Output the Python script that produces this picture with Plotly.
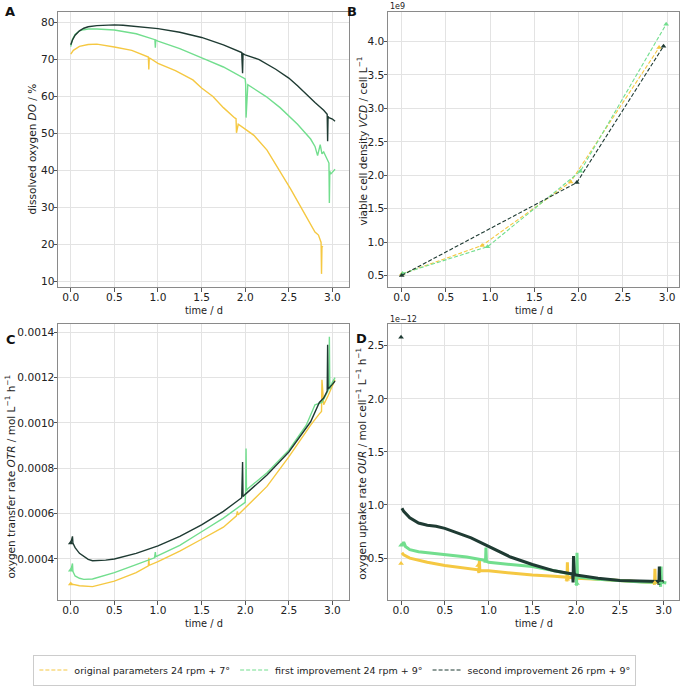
import plotly.graph_objects as go

W, H = 682, 686

YEL = "#f5c842"
GRN = "#72de8e"
DRK = "#1f3b33"

names = ["original parameters 24 rpm + 7°", "first improvement 24 rpm + 9°", "second improvement 26 rpm + 9°"]

# ---------- Panel A: dissolved oxygen (%) ----------
a_yel_t = [0.0, 0.03, 0.1, 0.2, 0.3, 0.4, 0.5, 0.7, 0.88, 0.89, 0.895, 0.9, 1.0, 1.2, 1.4, 1.5, 1.63, 1.75, 1.88, 1.895, 1.9, 1.92, 2.0, 2.1, 2.25, 2.4, 2.52, 2.64, 2.72, 2.8, 2.84, 2.87, 2.875, 2.88, 2.89]
a_yel = [71.5, 72.5, 73.6, 74.1, 74.2, 73.9, 73.4, 72.5, 70.9, 70.7, 67.3, 70.5, 69.0, 67.0, 64.5, 62.3, 60.0, 57.0, 54.2, 54.0, 50.2, 52.5, 51.2, 49.5, 45.5, 39.7, 35.0, 30.0, 26.5, 23.3, 22.5, 20.5, 12.0, 19.5, 19.2]

a_grn_t = [0.0, 0.02, 0.05, 0.1, 0.15, 0.2, 0.3, 0.5, 0.75, 0.95, 0.965, 0.97, 0.975, 1.0, 1.25, 1.55, 1.75, 2.0, 2.005, 2.01, 2.02, 2.03, 2.24, 2.4, 2.6, 2.7, 2.75, 2.8, 2.83, 2.86, 2.88, 2.9, 2.94, 2.96, 2.965, 2.97, 2.98, 3.0, 3.03]
a_grn = [73.5, 75.5, 76.8, 77.8, 78.1, 78.3, 78.3, 78.0, 77.0, 75.6, 75.4, 73.2, 75.3, 75.0, 73.0, 70.0, 68.0, 64.8, 63.5, 54.3, 62.0, 63.2, 60.0, 57.0, 52.5, 50.0, 48.5, 46.5, 44.0, 47.0, 44.5, 45.0, 43.0, 42.0, 31.2, 39.8, 39.0, 39.5, 40.3]

a_drk_t = [0.0, 0.02, 0.05, 0.1, 0.15, 0.2, 0.3, 0.4, 0.5, 0.6, 0.7, 0.85, 1.0, 1.25, 1.5, 1.75, 1.96, 1.97, 1.975, 2.0, 2.16, 2.35, 2.5, 2.6, 2.7, 2.8, 2.9, 2.94, 2.945, 2.95, 2.96, 3.0, 3.03]
a_drk = [74.0, 75.3, 76.6, 77.8, 78.5, 78.9, 79.2, 79.4, 79.4, 79.3, 79.1, 78.8, 78.4, 77.4, 76.0, 74.0, 71.9, 66.3, 71.6, 71.3, 70.0, 67.4, 65.0, 62.9, 60.6, 58.4, 56.3, 55.2, 47.9, 54.6, 54.3, 53.9, 53.3]

# ---------- Panel B: viable cell density (1e9 cell/L) ----------
b_yel_t = [0.0, 0.91, 1.91, 2.91]
b_yel = [0.52, 0.95, 1.90, 3.91]
b_grn_t = [0.01, 0.97, 2.02, 2.99]
b_grn = [0.53, 0.93, 2.06, 4.26]
b_drk_t = [0.0, 1.98, 2.96]
b_drk = [0.50, 1.89, 3.93]

# ---------- Panel C: OTR (mol/L/h) ----------
c_yel_t = [0.0, 0.02, 0.1, 0.25, 0.5, 0.75, 0.89, 0.895, 0.9, 1.0, 1.25, 1.5, 1.75, 1.9, 1.91, 1.92, 2.0, 2.25, 2.5, 2.75, 2.85, 2.875, 2.88, 2.9, 2.95, 3.0, 3.03]
c_yel = [0.000290, 0.000288, 0.000282, 0.000278, 0.000302, 0.000340, 0.000370, 0.000405, 0.000372, 0.000388, 0.000435, 0.000487, 0.000540, 0.000590, 0.000610, 0.000595, 0.000625, 0.000720, 0.000850, 0.000990, 0.001040, 0.001050, 0.001190, 0.001080, 0.001120, 0.001160, 0.001190]

c_grn_t = [0.0, 0.02, 0.025, 0.05, 0.1, 0.15, 0.25, 0.5, 0.75, 0.96, 0.97, 0.975, 1.0, 1.25, 1.5, 1.75, 2.0, 2.005, 2.01, 2.015, 2.03, 2.25, 2.5, 2.7, 2.8, 2.88, 2.92, 2.96, 2.965, 2.97, 3.0, 3.03]
c_grn = [0.000350, 0.000380, 0.000345, 0.000325, 0.000315, 0.000310, 0.000312, 0.000340, 0.000375, 0.000405, 0.000430, 0.000410, 0.000415, 0.000460, 0.000520, 0.000580, 0.000650, 0.000700, 0.000887, 0.000700, 0.000710, 0.000780, 0.000880, 0.000990, 0.001080, 0.001090, 0.001120, 0.001150, 0.001380, 0.001150, 0.001180, 0.001200]

c_drk_t = [0.0, 0.02, 0.025, 0.05, 0.1, 0.15, 0.2, 0.25, 0.3, 0.4, 0.5, 0.75, 1.0, 1.25, 1.5, 1.75, 1.96, 1.97, 1.975, 2.0, 2.25, 2.5, 2.75, 2.85, 2.9, 2.94, 2.945, 2.95, 3.0, 3.03]
c_drk = [0.000470, 0.000500, 0.000470, 0.000450, 0.000425, 0.000410, 0.000398, 0.000392, 0.000392, 0.000395, 0.000400, 0.000425, 0.000458, 0.000500, 0.000550, 0.000610, 0.000670, 0.000828, 0.000675, 0.000685, 0.000770, 0.000872, 0.001005, 0.001090, 0.001110, 0.001140, 0.001345, 0.001150, 0.001170, 0.001185]

# ---------- Panel D: OUR (1e-12 mol/cell/L/h) ----------
d_yel_t = [0.01, 0.03, 0.1, 0.2, 0.3, 0.5, 0.75, 0.88, 0.89, 0.895, 0.9, 1.0, 1.25, 1.5, 1.75, 1.89, 1.895, 1.9, 1.905, 2.0, 2.25, 2.5, 2.75, 2.89, 2.895, 2.9, 2.905, 3.0]
d_yel = [0.55, 0.53, 0.50, 0.48, 0.46, 0.43, 0.40, 0.39, 0.36, 0.48, 0.38, 0.38, 0.36, 0.34, 0.33, 0.32, 0.28, 0.46, 0.32, 0.31, 0.30, 0.29, 0.28, 0.27, 0.25, 0.40, 0.27, 0.27]

d_grn_t = [0.01, 0.03, 0.05, 0.1, 0.2, 0.3, 0.5, 0.75, 0.95, 0.965, 0.97, 0.975, 1.0, 1.25, 1.5, 1.75, 2.0, 2.005, 2.01, 2.015, 2.02, 2.25, 2.5, 2.75, 2.96, 2.965, 2.97, 2.975, 3.0, 3.03]
d_grn = [0.62, 0.65, 0.61, 0.58, 0.56, 0.55, 0.53, 0.51, 0.48, 0.47, 0.60, 0.47, 0.46, 0.44, 0.42, 0.38, 0.34, 0.24, 0.55, 0.33, 0.32, 0.30, 0.285, 0.275, 0.27, 0.23, 0.42, 0.27, 0.27, 0.265]

d_drk_t = [0.01, 0.03, 0.1, 0.2, 0.3, 0.4, 0.5, 0.6, 0.7, 0.8, 0.9, 1.0, 1.1, 1.25, 1.5, 1.75, 1.96, 1.965, 1.97, 1.975, 1.98, 2.0, 2.25, 2.5, 2.75, 2.94, 2.945, 2.95, 2.955, 2.96, 3.0]
d_drk = [0.97, 0.94, 0.88, 0.83, 0.81, 0.80, 0.78, 0.75, 0.72, 0.69, 0.65, 0.61, 0.57, 0.51, 0.44, 0.38, 0.35, 0.27, 0.52, 0.35, 0.34, 0.34, 0.31, 0.29, 0.285, 0.28, 0.25, 0.42, 0.28, 0.28, 0.28]

# sample-point markers (triangles)
c_m_t = [0.0, 0.0, 0.0]
c_m = [0.00029, 0.00035, 0.00047]
d_m_yel_t = [0.0, 0.88, 1.9, 2.9]
d_m_yel = [0.45, 0.43, 0.30, 0.27]
d_m_grn_t = [0.0, 0.97, 2.01, 2.97]
d_m_grn = [0.62, 0.47, 0.26, 0.27]
d_m_drk_t = [0.0, 1.97, 2.95]
d_m_drk = [2.58, 0.36, 0.29]


def px_x(p):
    return p / W


def px_y(p):
    return 1 - p / H


DASH = "4px,2px"
fig = go.Figure()
cols = [YEL, GRN, DRK]

# Panel A
for t, v, c in zip([a_yel_t, a_grn_t, a_drk_t], [a_yel, a_grn, a_drk], cols):
    fig.add_trace(go.Scatter(x=t, y=v, mode="lines", line=dict(color=c, width=1.4),
                             xaxis="x", yaxis="y", showlegend=False))
# Panel B
for t, v, c in zip([b_yel_t, b_grn_t, b_drk_t], [b_yel, b_grn, b_drk], cols):
    fig.add_trace(go.Scatter(x=t, y=v, mode="lines+markers",
                             line=dict(color=c, width=1.1, dash=DASH),
                             marker=dict(symbol="triangle-up", size=5, color=c),
                             xaxis="x2", yaxis="y2", showlegend=False))
# Panel C
for t, v, c in zip([c_yel_t, c_grn_t, c_drk_t], [c_yel, c_grn, c_drk], cols):
    fig.add_trace(go.Scatter(x=t, y=v, mode="lines", line=dict(color=c, width=1.4),
                             xaxis="x3", yaxis="y3", showlegend=False))
for i, c in enumerate(cols):
    fig.add_trace(go.Scatter(x=[c_m_t[i]], y=[c_m[i]], mode="markers",
                             marker=dict(symbol="triangle-up", size=5, color=c),
                             xaxis="x3", yaxis="y3", showlegend=False))
# Panel D
for t, v, c in zip([d_yel_t, d_grn_t, d_drk_t], [d_yel, d_grn, d_drk], cols):
    fig.add_trace(go.Scatter(x=t, y=v, mode="lines", line=dict(color=c, width=3),
                             xaxis="x4", yaxis="y4", showlegend=False))
for t, v, c in zip([d_m_yel_t, d_m_grn_t, d_m_drk_t], [d_m_yel, d_m_grn, d_m_drk], cols):
    fig.add_trace(go.Scatter(x=t, y=v, mode="markers",
                             marker=dict(symbol="triangle-up", size=5, color=c),
                             xaxis="x4", yaxis="y4", showlegend=False))

# Legend-only entries
for n, c in zip(names, cols):
    fig.add_trace(go.Scatter(x=[None], y=[None], mode="lines", name=n,
                             line=dict(color=c, width=1.1, dash=DASH),
                             xaxis="x", yaxis="y", showlegend=True))

FONT = "DejaVu Sans"
axcommon = dict(showgrid=True, gridcolor="#e3e3e3", gridwidth=1, zeroline=False,
                showline=True, linecolor="#8a8a8a", linewidth=1, mirror=True,
                ticks="outside", ticklen=3.5, tickcolor="#555", tickwidth=1,
                ticklabelstandoff=-3,
                tickfont=dict(family=FONT, size=10.6, color="#222"), automargin=False)

dom_left = [px_x(58), px_x(349)]
dom_right = [px_x(388), px_x(679)]
dom_top = [px_y(288), px_y(12)]
dom_bot = [px_y(602), px_y(325)]

tv = [0, 0.5, 1, 1.5, 2, 2.5, 3]
tl = ["0.0", "0.5", "1.0", "1.5", "2.0", "2.5", "3.0"]

fig.update_layout(
    width=W, height=H, margin=dict(l=0, r=0, t=0, b=0),
    paper_bgcolor="white", plot_bgcolor="white",
    font=dict(family=FONT, color="#222"),
    xaxis=dict(axcommon, domain=dom_left, anchor="y", range=[-0.146, 3.19], tickvals=tv, ticktext=tl),
    yaxis=dict(axcommon, domain=dom_top, anchor="x", range=[8.4, 82.9], tickvals=[10, 20, 30, 40, 50, 60, 70, 80]),
    xaxis2=dict(axcommon, domain=dom_right, anchor="y2", range=[-0.155, 3.135], tickvals=tv, ticktext=tl),
    yaxis2=dict(axcommon, domain=dom_top, anchor="x2", range=[0.325, 4.443],
                tickvals=[0.5, 1.0, 1.5, 2.0, 2.5, 3.0, 3.5, 4.0], ticktext=["0.5", "1.0", "1.5", "2.0", "2.5", "3.0", "3.5", "4.0"]),
    xaxis3=dict(axcommon, domain=dom_left, anchor="y3", range=[-0.146, 3.19], tickvals=tv, ticktext=tl),
    yaxis3=dict(axcommon, domain=dom_bot, anchor="x3", range=[0.000218, 0.001436],
                tickvals=[0.0004, 0.0006, 0.0008, 0.0010, 0.0012, 0.0014], tickformat=".4f"),
    xaxis4=dict(axcommon, domain=dom_right, anchor="y4", range=[-0.149, 3.175], tickvals=tv, ticktext=tl),
    yaxis4=dict(axcommon, domain=dom_bot, anchor="x4", range=[0.103, 2.704],
                tickvals=[0.5, 1.0, 1.5, 2.0, 2.5], ticktext=["0.5", "1.0", "1.5", "2.0", "2.5"]),
    legend=dict(orientation="h", x=0.491, xanchor="center", y=px_y(672), yanchor="middle",
                bordercolor="#cccccc", borderwidth=1, font=dict(family=FONT, size=9.5, color="#222"),
                itemwidth=30, tracegroupgap=0, bgcolor="white"),
)

ann = []
TF = dict(family=FONT, size=10.5, color="#222")
for txt, x, y in [("A", 10, 12), ("B", 352, 12), ("C", 11, 340), ("D", 361, 339)]:
    ann.append(dict(text=f"<b>{txt}</b>", x=px_x(x), y=px_y(y), xref="paper", yref="paper",
                    showarrow=False, xanchor="center", yanchor="middle",
                    font=dict(family=FONT, size=13, color="#111")))
# x-axis titles
for x, y in [(203.5, 311), (533.5, 311), (203.5, 625), (533.5, 625)]:
    ann.append(dict(text="time / d", x=px_x(x), y=px_y(y), xref="paper", yref="paper",
                    showarrow=False, xanchor="center", yanchor="middle",
                    font=dict(family=FONT, size=9.8, color="#222")))
# y-axis titles
ytitles = [
    ("dissolved oxygen <i>DO</i> / %", 32, 150),
    ("viable cell density <i>VCD</i> / cell L<sup>−1</sup>", 362, 142),
    ("oxygen transfer rate <i>OTR</i> / mol L<sup>−1</sup> h<sup>−1</sup>", 10, 478),
    ("oxygen uptake rate <i>OUR</i> / mol cell<sup>−1</sup> L<sup>−1</sup> h<sup>−1</sup>", 361, 465),
]
for txt, x, y in ytitles:
    ann.append(dict(text=txt, x=px_x(x), y=px_y(y), xref="paper", yref="paper", textangle=-90,
                    showarrow=False, xanchor="center", yanchor="middle", font=TF))
ann.append(dict(text="1e9", x=px_x(388), y=px_y(7), xref="paper", yref="paper", showarrow=False,
                xanchor="left", yanchor="middle", font=dict(family=FONT, size=8, color="#222")))
ann.append(dict(text="1e−12", x=px_x(388), y=px_y(320), xref="paper", yref="paper", showarrow=False,
                xanchor="left", yanchor="middle", font=dict(family=FONT, size=8, color="#222")))
fig.update_layout(annotations=ann)

fig.write_html("out.html")
